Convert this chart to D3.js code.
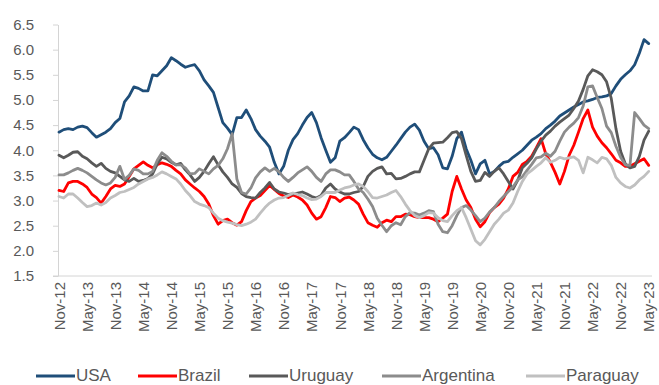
<!DOCTYPE html>
<html><head><meta charset="utf-8">
<script src="https://cdn.jsdelivr.net/npm/d3@7"></script>
<style>body{margin:0;background:#fff}svg{display:block}text{font-family:"Liberation Sans",Arial,sans-serif}</style>
</head><body><svg id="c" width="659" height="385"></svg>
<script>
// Monthly series, Nov-2012 .. May-2023
const usa = [4.36,4.41,4.43,4.41,4.46,4.48,4.45,4.35,4.26,4.31,
4.36,4.43,4.55,4.63,4.96,5.08,5.26,5.23,5.18,5.18,
5.5,5.48,5.58,5.68,5.84,5.78,5.71,5.65,5.68,5.7,
5.58,5.4,5.28,5.15,4.85,4.55,4.44,4.31,4.65,4.65,
4.8,4.63,4.41,4.28,4.18,4.06,3.76,3.53,3.68,4.0,
4.21,4.33,4.5,4.65,4.75,4.55,4.25,4.0,3.76,3.85,
4.18,4.25,4.35,4.46,4.41,4.21,4.05,3.92,3.85,3.81,
3.86,3.98,4.1,4.23,4.36,4.46,4.52,4.4,4.18,4.03,
4.05,3.91,3.65,3.63,3.88,4.23,4.36,4.03,3.8,3.53,
3.73,3.8,3.53,3.58,3.68,3.76,3.78,3.86,3.93,4.0,
4.1,4.2,4.26,4.33,4.43,4.5,4.58,4.68,4.74,4.8,
4.86,4.91,4.96,4.98,5.01,5.05,5.06,5.08,5.13,5.28,
5.41,5.5,5.58,5.7,5.93,6.2,6.12];
const brazil = [3.2,3.18,3.35,3.38,3.38,3.33,3.26,3.13,3.06,2.95,
3.08,3.23,3.3,3.28,3.33,3.48,3.63,3.7,3.77,3.7,
3.65,3.71,3.75,3.72,3.68,3.6,3.53,3.41,3.33,3.25,
3.18,3.08,2.93,2.7,2.53,2.6,2.63,2.56,2.51,2.58,
2.8,2.98,3.05,3.1,3.2,3.3,3.22,3.14,3.09,3.06,
3.11,3.07,3.01,2.91,2.75,2.63,2.68,2.86,3.08,3.06,
2.98,3.05,3.07,3.01,2.93,2.73,2.56,2.51,2.47,2.56,
2.61,2.58,2.68,2.68,2.73,2.72,2.68,2.66,2.66,2.66,
2.63,2.58,2.65,2.73,3.18,3.48,3.23,3.01,2.86,2.63,
2.48,2.58,2.76,2.86,2.93,3.05,3.23,3.48,3.56,3.72,
3.78,3.88,4.05,4.23,3.93,3.76,3.56,3.33,3.58,3.9,
4.1,4.36,4.63,4.8,4.46,4.28,4.15,4.05,3.93,3.8,
3.75,3.68,3.68,3.73,3.78,3.83,3.7];
const uruguay = [3.9,3.85,3.9,3.96,3.97,3.88,3.83,3.75,3.68,3.74,
3.64,3.58,3.55,3.48,3.41,3.38,3.44,3.38,3.4,3.44,
3.53,3.73,3.86,3.83,3.76,3.71,3.74,3.61,3.51,3.38,
3.46,3.58,3.73,3.87,3.71,3.57,3.46,3.33,3.26,3.14,
3.08,3.06,3.05,3.16,3.25,3.36,3.23,3.17,3.15,3.12,
3.13,3.15,3.17,3.13,3.08,3.05,3.1,3.25,3.33,3.23,
3.17,3.13,3.13,3.16,3.18,3.28,3.48,3.58,3.64,3.67,
3.53,3.54,3.43,3.44,3.48,3.53,3.57,3.57,3.8,4.03,
4.14,4.15,4.16,4.25,4.35,4.37,4.23,3.9,3.58,3.38,
3.4,3.56,3.48,3.58,3.65,3.53,3.38,3.23,3.4,3.65,
3.74,3.85,4.03,4.18,4.3,4.38,4.48,4.56,4.63,4.7,
4.83,4.98,5.21,5.48,5.6,5.56,5.5,5.36,5.03,4.43,
3.98,3.73,3.65,3.68,3.88,4.2,4.38];
const argentina = [3.51,3.51,3.55,3.6,3.64,3.6,3.55,3.48,3.41,3.35,
3.31,3.35,3.46,3.68,3.42,3.5,3.63,3.6,3.53,3.53,
3.58,3.8,3.95,3.88,3.78,3.71,3.71,3.65,3.53,3.54,
3.63,3.58,3.53,3.63,3.7,3.83,4.03,4.33,3.43,3.16,
3.13,3.25,3.45,3.57,3.65,3.58,3.64,3.57,3.46,3.38,
3.46,3.55,3.61,3.67,3.58,3.46,3.38,3.53,3.61,3.61,
3.57,3.51,3.51,3.38,3.23,3.16,3.03,2.88,2.65,2.51,
2.38,2.5,2.56,2.52,2.68,2.76,2.75,2.71,2.75,2.8,
2.78,2.53,2.38,2.36,2.5,2.7,2.86,2.9,2.81,2.7,
2.58,2.65,2.77,2.86,2.98,3.08,3.18,3.27,3.41,3.47,
3.6,3.72,3.85,3.87,3.94,3.88,3.98,4.18,4.36,4.46,
4.54,4.65,4.88,5.26,5.28,5.05,4.83,4.48,4.35,4.08,
3.86,3.71,3.7,4.75,4.63,4.5,4.43];
const paraguay = [3.08,3.05,3.13,3.13,3.05,2.96,2.88,2.9,2.95,2.91,
2.96,3.05,3.1,3.16,3.18,3.22,3.26,3.33,3.38,3.43,
3.46,3.51,3.57,3.53,3.48,3.43,3.33,3.2,3.1,2.98,
2.93,2.9,2.86,2.75,2.65,2.6,2.57,2.55,2.52,2.5,
2.53,2.57,2.63,2.75,2.86,2.95,3.01,3.05,3.06,3.1,
3.15,3.12,3.1,3.05,3.02,3.03,3.08,3.16,3.16,3.16,
3.21,3.25,3.27,3.31,3.33,3.28,3.18,3.06,3.05,3.08,
3.11,3.16,3.2,3.08,2.93,2.8,2.7,2.66,2.7,2.76,
2.75,2.66,2.6,2.58,2.7,2.8,2.86,2.66,2.43,2.2,
2.12,2.23,2.38,2.53,2.63,2.75,2.81,2.95,3.18,3.38,
3.53,3.6,3.68,3.75,3.85,3.76,3.8,3.86,3.83,3.85,
3.87,3.8,3.55,3.86,3.81,3.75,3.86,3.83,3.7,3.46,
3.35,3.28,3.25,3.31,3.41,3.48,3.58];

const seriesNames = ["USA","Brazil","Uruguay","Argentina","Paraguay"];
const seriesColors = ["#1f4e79","#ff0000","#595959","#8c8c8c","#c0c0c0"];
const yTicks = [1.5,2.0,2.5,3.0,3.5,4.0,4.5,5.0,5.5,6.0,6.5];
const xTickLabels = ["Nov-12","May-13","Nov-13","May-14","Nov-14","May-15","Nov-15","May-16","Nov-16","May-17","Nov-17","May-18","Nov-18","May-19","Nov-19","May-20","Nov-20","May-21","Nov-21","May-22","Nov-22","May-23"];

const allSeries = [usa, brazil, uruguay, argentina, paraguay];
const months = usa.map((_, i) => i);
const svg = d3.select("#c");

const x = d3.scaleLinear().domain([0, months.length - 1]).range([59, 648.7]);
const y = d3.scaleLinear().domain([1.5, 6.5]).range([276, 24.5]);
const axisColor = "#d4d4d4", textColor = "#595959";

// Y axis
const gy = svg.append("g").attr("transform", "translate(58,0)")
  .call(d3.axisLeft(y).tickValues(yTicks).tickFormat(d3.format(".1f")).tickSize(5).tickPadding(19).tickSizeOuter(0));
gy.select(".domain").attr("stroke", axisColor);
gy.selectAll(".tick line").attr("stroke", axisColor);
gy.selectAll("text").attr("fill", textColor).style("font-size", "15px");

// X axis
const xTickIdx = xTickLabels.map((_, k) => k * 6);
const gx = svg.append("g").attr("transform", "translate(0,276)")
  .call(d3.axisBottom(x).tickValues(xTickIdx).tickFormat((d, k) => xTickLabels[k]).tickSize(0).tickSizeOuter(0));
gx.select(".domain").remove();
gx.append("line").attr("x1", 53).attr("x2", 652).attr("y1", 0).attr("y2", 0).attr("stroke", axisColor);
gx.selectAll(".tick text")
  .attr("transform", "rotate(-90)").attr("x", -6).attr("y", 0).attr("dy", "0.35em")
  .style("text-anchor", "end").attr("fill", textColor).style("font-size", "15px");

// Lines
const line = d3.line().x((d, i) => x(months[i])).y(d => y(d));
allSeries.forEach((s, k) => {
  svg.append("path").datum(s).attr("d", line).attr("fill", "none")
    .attr("stroke", seriesColors[k]).attr("stroke-width", 2.8)
    .attr("stroke-linejoin", "round").attr("stroke-linecap", "round");
});

// Legend
const legendX = [36, 138, 249, 382, 526];
const lg = svg.append("g").attr("transform", "translate(0,376)");
seriesNames.forEach((n, k) => {
  lg.append("line").attr("x1", legendX[k]).attr("x2", legendX[k] + 39).attr("y1", 0).attr("y2", 0)
    .attr("stroke", seriesColors[k]).attr("stroke-width", 2.8);
  lg.append("text").attr("x", legendX[k] + 40).attr("y", 5.2)
    .attr("fill", textColor).style("font-size", "17px").text(n);
});
</script></body></html>
